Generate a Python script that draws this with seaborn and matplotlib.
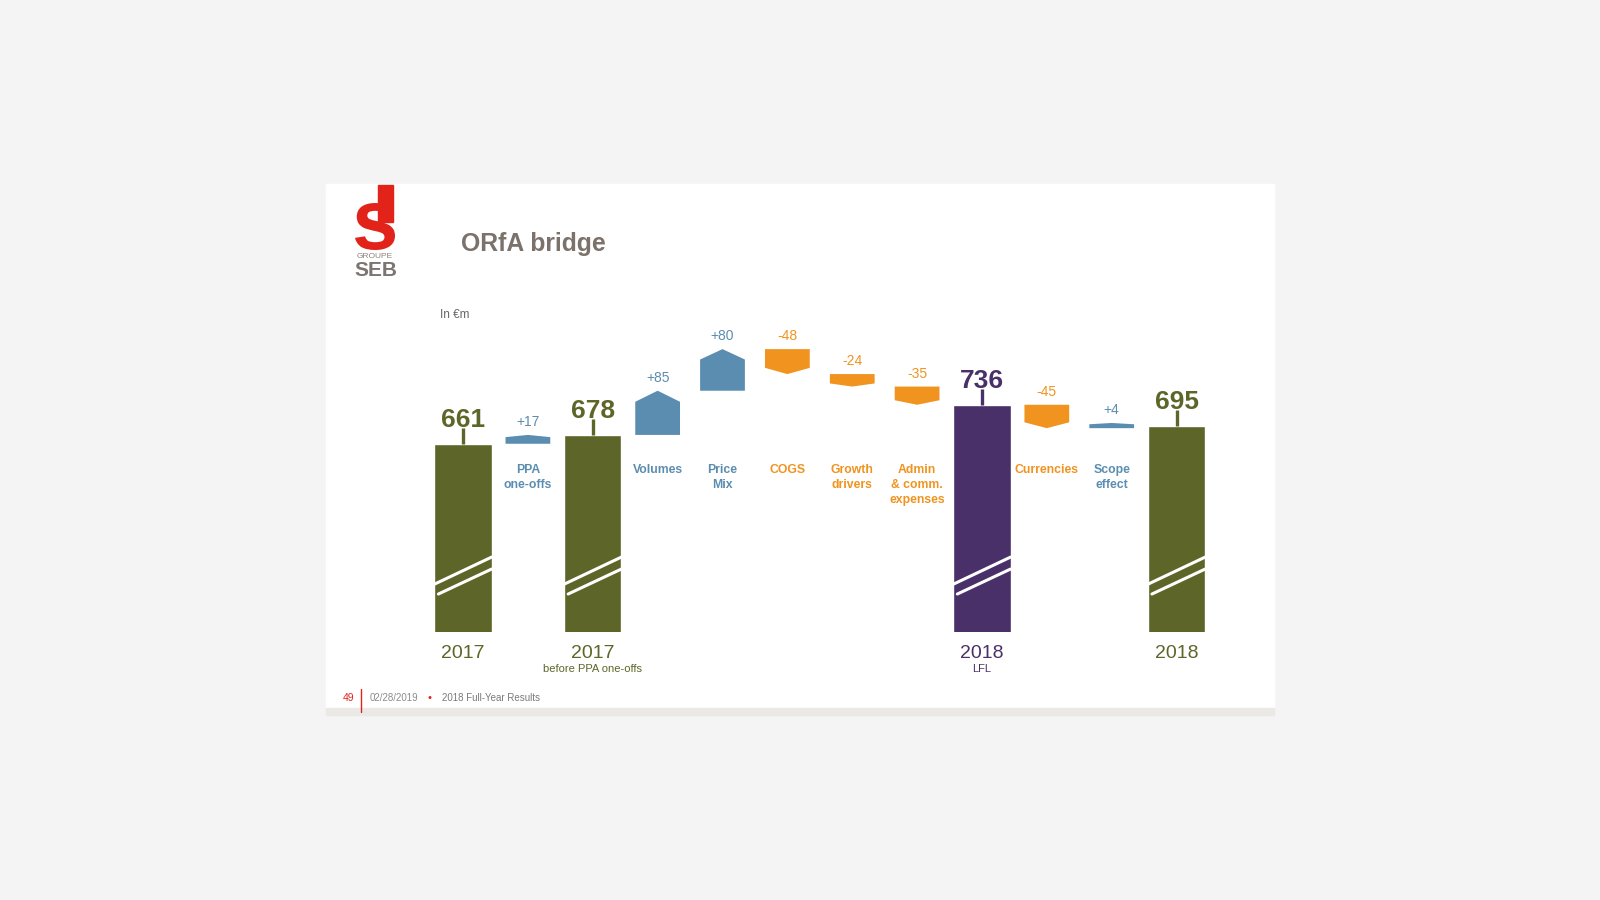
import numpy as np
import pandas as pd
import seaborn as sns
import matplotlib.pyplot as plt
from matplotlib.patches import Rectangle, PathPatch
from matplotlib.textpath import TextPath
from matplotlib.font_manager import FontProperties
from matplotlib.transforms import Affine2D, blended_transform_factory

# data
steps = ["2017", "PPA one-offs", "2017 before PPA one-offs", "Volumes", "Price Mix",
         "COGS", "Growth drivers", "Admin & comm. expenses", "2018 LFL",
         "Currencies", "Scope effect", "2018"]
values = [661, 17, 678, 85, 80, -48, -24, -35, 736, -45, 4, 695]
is_total = [True, False, True, False, False, False, False, False, True, False, False, True]
delta_names = ["", "PPA\none-offs", "", "Volumes", "Price\nMix", "COGS", "Growth\ndrivers",
               "Admin\n& comm.\nexpenses", "", "Currencies", "Scope\neffect", ""]
year_labels = ["2017", "", "2017", "", "", "", "", "", "2018", "", "", "2018"]
sub_labels = ["", "", "before PPA one-offs", "", "", "", "", "", "LFL", "", "", ""]

OLIVE = "#5d6628"
PURPLE = "#4a3068"
BLUE = "#5b8db0"
ORANGE = "#f0931f"
total_colors = [OLIVE, None, OLIVE, None, None, None, None, None, PURPLE, None, None, OLIVE]

sns.set_theme(style="white")
plt.rcParams['font.family'] = ['Liberation Sans', 'DejaVu Sans']

W, H = 1600, 900
fig = plt.figure(figsize=(16, 9), dpi=100, facecolor="#f4f4f4")

def fx(x):
    return x / W

def fy(y):
    return 1 - y / H

# slide background (below the axes)
fig.patches.append(Rectangle((fx(326), fy(708)), fx(1274) - fx(326), fy(184) - fy(708),
                             transform=fig.transFigure, color="white", zorder=-10))
fig.patches.append(Rectangle((fx(326), fy(715)), fx(1274) - fx(326), fy(708) - fy(715),
                             transform=fig.transFigure, color="#ebe9e6", zorder=-10))

# chart area
ax = fig.add_axes([fx(430.6), fy(632), fx(1209) - fx(430.6), fy(320) - fy(632)])
ax.set_facecolor("none")

df = pd.DataFrame({"step": steps,
                   "total": [v if t else np.nan for v, t in zip(values, is_total)]})
pal = {s: (c if c else OLIVE) for s, c in zip(steps, total_colors)}
sns.barplot(data=df, x="step", y="total", hue="step", palette=pal, order=steps,
            width=0.88, legend=False, errorbar=None, saturation=1, ax=ax)

y_lo, y_hi = 299, 899
ax.set_ylim(y_lo, y_hi)
ax.set_xlim(-0.5, len(steps) - 0.5)
ax.axis("off")

fig_y = blended_transform_factory(ax.transData, fig.transFigure)

running = 0
for i, (v, tot) in enumerate(zip(values, is_total)):
    if tot:
        running = v
        c = total_colors[i]
        # stem + value
        ax.plot([i, i], [v, v + 30], color=c, lw=2.4, solid_capstyle="butt")
        ax.text(i, v + 33, f"{v}", ha="center", va="baseline", fontsize=19,
                fontweight="bold", color=c)
        # axis break marks
        ax.plot([i - 0.44, i + 0.44], [y_lo + 92, y_lo + 144], color="white", lw=2.2)
        ax.plot([i - 0.38, i + 0.44], [y_lo + 73, y_lo + 121], color="white", lw=2.2)
        ax.text(i, fy(653), year_labels[i], transform=fig_y, ha="center", va="center",
                fontsize=14, color=c)
        if sub_labels[i]:
            ax.text(i, fy(669), sub_labels[i], transform=fig_y, ha="center",
                    va="center", fontsize=8, color=c)
    else:
        base = running
        end = running + v
        running = end
        c = BLUE if v > 0 else ORANGE
        w = 0.345
        # keep very small steps visible
        shown = np.sign(v) * max(abs(v), 10)
        knee = base + 0.75 * shown
        ax.fill([i - w, i + w, i + w, i, i - w], [base, base, knee, base + shown, knee],
                color=c, lw=0)
        top = max(base, base + shown)
        ax.text(i, top + 11, f"{v:+d}", ha="center", va="bottom", fontsize=10, color=c)
        ax.text(i, fy(464), delta_names[i], transform=fig_y, ha="center", va="top",
                fontsize=8.8, fontweight="bold", color=c, linespacing=1.35)

# title and unit
fig.text(fx(461), fy(244), "ORfA bridge", ha="left", va="center", fontsize=17.8,
         fontweight="bold", color="#7b726b")
fig.text(fx(440), fy(315), "In €m", ha="left", va="center", fontsize=8.5, color="#666666")

# logo
RED = "#e2231a"
fig.patches.append(Rectangle((fx(378), fy(222)), fx(393) - fx(378), fy(185) - fy(222),
                             transform=fig.transFigure, color=RED, zorder=2))
sp = TextPath((0, 0), "s", size=1, prop=FontProperties(family="Liberation Sans", weight="bold"))
ext = sp.get_extents()
x0, y0, x1, y1 = 355, 203, 395, 250
tr = (Affine2D().translate(-ext.x0, -ext.y0)
      .scale((fx(x1) - fx(x0)) / ext.width, (fy(y0) - fy(y1)) / ext.height)
      .translate(fx(x0), fy(y1)) + fig.transFigure)
fig.patches.append(PathPatch(sp, transform=tr, color=RED, lw=0, zorder=2))
fig.text(fx(375), fy(257), "GROUPE", ha="center", va="center", fontsize=6, color="#8a827c")
fig.text(fx(376), fy(271), "SEB", ha="center", va="center", fontsize=15,
         fontweight="bold", color="#7d7570")

# footer
fig.text(fx(349), fy(698), "49", ha="center", va="center", fontsize=7.5, color=RED)
fig.lines.append(plt.Line2D([fx(361), fx(361)], [fy(689), fy(712)], color=RED, lw=1,
                            transform=fig.transFigure))
fig.text(fx(370), fy(698), "02/28/2019", ha="left", va="center", fontsize=7, color="#8c8c8c")
fig.text(fx(430), fy(698), "•", ha="center", va="center", fontsize=8, color=RED)
fig.text(fx(442), fy(698), "2018 Full-Year Results", ha="left", va="center", fontsize=7,
         color="#7a7a7a")

fig.savefig("out.png", dpi=100, facecolor=fig.get_facecolor())
